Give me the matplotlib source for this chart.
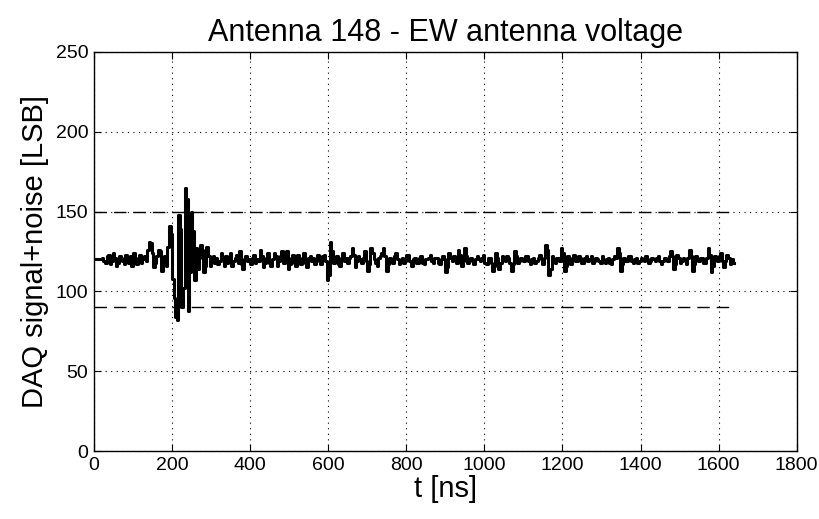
import numpy as np
import matplotlib.pyplot as plt

# sampled trace, 4 ns bins
dt = 4
adc = [120, 120, 120, 120, 120,
       121, 119, 118, 122, 123, 117, 119, 124, 121, 116, 118, 122, 121, 119, 117, 123, 120, 118, 122, 116,
       124, 119, 117, 121, 123, 118, 120, 122, 119, 126, 131, 130, 124, 115, 118, 122, 126, 125, 113, 117,
       122, 116, 128, 141, 136, 108, 96, 84, 82, 148, 139, 90, 102, 165, 158, 88, 112, 150, 138, 107,
       127, 114, 121, 129, 126, 112, 116, 128, 122, 116, 119, 122, 118, 121, 117, 119, 124, 121, 116, 122,
       118, 121, 124, 116, 119, 121, 123, 118, 125, 117, 114, 120, 122, 119, 120, 117, 121, 123, 118, 120,
       119, 126, 122, 115, 118, 121, 124, 118, 116, 120, 124, 122, 116, 119, 122, 125, 118, 119, 125, 114,
       117, 121, 123, 118, 116, 123, 120, 117, 121, 124, 118, 115, 121, 122, 119, 121, 117, 120, 123, 119,
       117, 122, 123, 119, 107, 110, 131, 125, 118, 120, 122, 117, 116, 121, 124, 119, 121, 118, 121, 122,
       127, 123, 115, 119, 122, 120, 118, 121, 125, 119, 113, 117, 127, 124, 120, 118, 116, 121, 122, 124,
       127, 122, 113, 117, 121, 119, 118, 122, 124, 120, 117, 119, 121, 118, 119, 123, 123, 119, 116, 120,
       121, 118, 118, 121, 122, 118, 117, 120, 120, 121, 123, 119, 118, 121, 121, 118, 117, 120, 122, 120,
       112, 115, 124, 121, 119, 122, 121, 118, 126, 123, 116, 119, 127, 122, 118, 120, 121, 119, 117, 120,
       122, 120, 119, 121, 123, 118, 117, 121, 121, 118, 113, 116, 124, 121, 114, 118, 122, 120, 119, 122,
       121, 118, 113, 117, 125, 122, 118, 119, 121, 120, 119, 122, 122, 119, 117, 120, 121, 118, 119, 121,
       123, 120, 117, 121, 129, 126, 110, 114, 122, 120, 118, 121, 121, 119, 127, 124, 113, 116, 122, 120,
       117, 121, 123, 119, 119, 122, 121, 118, 118, 121, 122, 119, 120, 122, 118, 119, 121, 120, 119, 118,
       122, 119, 118, 120, 121, 118, 117, 120, 122, 121, 127, 124, 113, 117, 121, 119, 119, 122, 122, 119,
       118, 120, 121, 118, 119, 121, 120, 119, 122, 120, 118, 119, 121, 120, 119, 121, 122, 119, 117, 119,
       121, 120, 119, 122, 125, 122, 114, 117, 123, 121, 118, 119, 121, 120, 117, 121, 126, 122, 113, 117,
       122, 120, 119, 121, 121, 118, 118, 121, 127, 123, 112, 116, 122, 120, 119, 122, 124, 119, 115, 119,
       123, 121, 117, 120, 118]
t_end = 1640
thr_hi = 150
thr_lo = 90

t = np.arange(len(adc)) * dt
t = np.append(t, t_end)
v = np.append(adc, adc[-1])

fig = plt.figure(figsize=(8.19, 5.19), dpi=100)
ax = fig.add_axes([0.1148, 0.131, 0.858, 0.769])

ax.plot(t, v, drawstyle='steps-post', color='k', lw=2.2)
ax.plot([0, t_end], [thr_hi, thr_hi], color='k', lw=1.0, dashes=(9, 5))
ax.plot([0, t_end], [thr_lo, thr_lo], color='k', lw=1.0, dashes=(9, 5))

ax.set_xlim(0, 1800)
ax.set_ylim(0, 250)
ax.set_xticks(np.arange(0, 1801, 200))
ax.set_yticks(np.arange(0, 251, 50))
ax.grid(True, color='k', linestyle=(0, (1, 4)), lw=0.8)
ax.tick_params(direction='in', top=True, right=True, length=5, width=0.8, pad=4)
for lab in ax.get_xticklabels() + ax.get_yticklabels():
    lab.set_family('Liberation Sans')
    lab.set_fontsize(14)
for s in ax.spines.values():
    s.set_linewidth(1.0)

ax.set_title('Antenna 148 - EW antenna voltage', fontsize=22, family='Liberation Sans', pad=8)
ax.set_xlabel('t [ns]', fontsize=21, family='Liberation Sans', labelpad=1)
ax.set_ylabel('DAQ signal+noise [LSB]', fontsize=21, family='Liberation Sans', labelpad=5)

fig.savefig('out.png', dpi=100)
